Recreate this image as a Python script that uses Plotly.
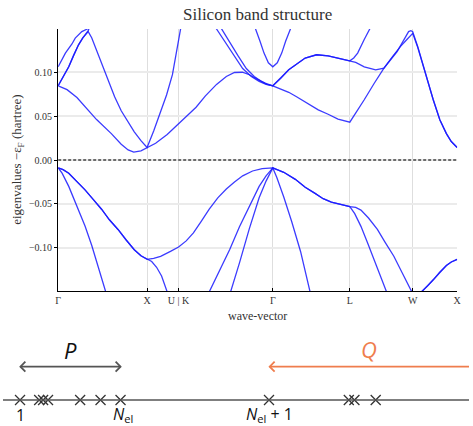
import plotly.graph_objects as go

# ---------------------------------------------------------------------------
# High-symmetry path of the fcc Brillouin zone (cumulative length, 2*pi/a)
# ---------------------------------------------------------------------------
KPATH_LABELS = ["Γ", "X", "U | K", "Γ", "L", "W", "X"]
KPATH_POS = [0.0, 1.0, 1.3536, 2.4142, 3.2802, 3.9873, 4.4873]

ENERGY_TICKS = [-0.10, -0.05, 0.0, 0.05, 0.10]

# ---------------------------------------------------------------------------
# Band energies relative to the Fermi level (hartree), sampled along the path
# ---------------------------------------------------------------------------
BAND2_K = [0.0, 0.044, 0.119, 0.211, 0.302, 0.377, 0.454, 0.535, 0.709, 1.0,
           1.354, 1.596, 1.699, 1.817, 1.928, 2.039, 2.150, 2.260, 2.338, 2.414,
           2.459, 2.537, 2.626, 2.726, 2.833, 3.036, 3.280, 3.987, 4.487]
BAND2_E = [-0.009, -0.015, -0.030, -0.052, -0.075, -0.097, -0.122, -0.150, -0.190, -0.210,
           -0.210, -0.180, -0.150, -0.126, -0.102, -0.076, -0.052, -0.030, -0.018, -0.009,
           -0.020, -0.042, -0.070, -0.104, -0.150, -0.190, -0.200, -0.200, -0.210]

BAND3_K = [0.0, 0.055, 0.119, 0.211, 0.302, 0.396, 0.488, 0.576, 0.673, 0.765, 0.856, 0.931, 1.0,
           1.052, 1.107, 1.163, 1.226, 1.285, 1.354,
           1.596, 1.762, 1.939, 2.039, 2.150, 2.260, 2.338, 2.414,
           2.537, 2.667, 2.778, 2.889, 2.980, 3.072, 3.180, 3.280,
           3.335, 3.405, 3.479, 3.553, 3.623, 3.693, 3.812, 3.987,
           4.033, 4.088, 4.155, 4.222, 4.288, 4.366, 4.421, 4.487]
BAND3_E = [-0.009, -0.011, -0.015, -0.024, -0.034, -0.045, -0.056, -0.068, -0.079, -0.091, -0.102, -0.109, -0.113,
           -0.1155, -0.122, -0.132, -0.150, -0.165, -0.175,
           -0.175, -0.162, -0.150, -0.117, -0.078, -0.043, -0.024, -0.009,
           -0.014, -0.022, -0.031, -0.038, -0.044, -0.048, -0.051, -0.053,
           -0.061, -0.0755, -0.094, -0.113, -0.131, -0.150, -0.175, -0.180,
           -0.162, -0.150, -0.143, -0.136, -0.128, -0.120, -0.116, -0.113]

BAND4_K = [0.0, 0.055, 0.119, 0.211, 0.302, 0.396, 0.488, 0.576, 0.673, 0.765, 0.856, 0.931, 1.0,
           1.074, 1.152, 1.263, 1.354,
           1.440, 1.521, 1.607, 1.699, 1.795, 1.891, 1.983, 2.075, 2.186, 2.294, 2.414,
           2.537, 2.667, 2.778, 2.889, 2.980, 3.072, 3.180, 3.280,
           3.346, 3.405, 3.490, 3.590, 3.679, 3.775, 3.867, 3.978, 3.987,
           4.033, 4.088, 4.155, 4.222, 4.288, 4.366, 4.421, 4.487]
BAND4_E = [-0.009, -0.011, -0.015, -0.024, -0.034, -0.045, -0.056, -0.068, -0.079, -0.091, -0.102, -0.109, -0.113,
           -0.112, -0.1095, -0.104, -0.099,
           -0.092, -0.083, -0.070, -0.056, -0.043, -0.033, -0.025, -0.018, -0.0125, -0.0098, -0.009,
           -0.014, -0.022, -0.031, -0.038, -0.044, -0.048, -0.051, -0.053,
           -0.054, -0.057, -0.066, -0.079, -0.094, -0.1095, -0.128, -0.150, -0.152,
           -0.155, -0.150, -0.143, -0.136, -0.128, -0.120, -0.116, -0.113]

BAND5_K = [0.0, 0.100, 0.211, 0.302, 0.432, 0.598, 0.709, 0.787, 0.850, 0.931, 1.0,
           1.096, 1.226, 1.330,
           1.448, 1.551, 1.656, 1.781, 1.891, 1.983, 2.072, 2.150, 2.238, 2.327, 2.414,
           2.504, 2.593, 2.681, 2.778, 2.925, 3.036, 3.147, 3.280,
           3.346, 3.442, 3.553, 3.664, 3.756, 3.848, 3.922, 3.987,
           4.044, 4.107, 4.163, 4.218, 4.292, 4.366, 4.421, 4.487]
BAND5_E = [0.0844, 0.080, 0.071, 0.061, 0.046, 0.030, 0.018, 0.0115, 0.009, 0.0105, 0.0143,
           0.019, 0.029, 0.039,
           0.050, 0.060, 0.073, 0.086, 0.095, 0.0995, 0.0998, 0.097, 0.092, 0.0875, 0.0844,
           0.081, 0.077, 0.072, 0.066, 0.057, 0.052, 0.0465, 0.043,
           0.053, 0.0685, 0.087, 0.1045, 0.117, 0.129, 0.137, 0.144,
           0.128, 0.106, 0.087, 0.0685, 0.0458, 0.030, 0.021, 0.0143]

BAND6_K = [0.0, 0.055, 0.119, 0.174, 0.229, 0.277, 0.310, 0.338, 0.377, 0.432, 0.488, 0.562,
           0.635, 0.709, 0.783, 0.856, 0.931, 1.0,
           1.074, 1.152, 1.219, 1.285, 1.354,
           1.396, 1.500, 1.650, 1.781, 1.873, 1.965, 2.075, 2.172, 2.260, 2.338, 2.414,
           2.504, 2.593, 2.778, 2.906, 3.036, 3.147, 3.280,
           3.346, 3.442, 3.571, 3.664, 3.734, 3.812, 3.878, 3.941, 3.967, 3.987,
           4.044, 4.107, 4.163, 4.218, 4.292, 4.366, 4.421, 4.487]
BAND6_E = [0.0844, 0.094, 0.106, 0.119, 0.131, 0.139, 0.1435, 0.146, 0.139, 0.125, 0.110, 0.091,
           0.072, 0.056, 0.044, 0.032, 0.022, 0.0143,
           0.033, 0.056, 0.074, 0.097, 0.136,
           0.160, 0.190, 0.170, 0.149, 0.135, 0.121, 0.104, 0.095, 0.0895, 0.086, 0.0844,
           0.093, 0.1026, 0.116, 0.1197, 0.1185, 0.116, 0.1128,
           0.111, 0.106, 0.1026, 0.1045, 0.113, 0.1234, 0.135, 0.146, 0.147, 0.146,
           0.129, 0.106, 0.087, 0.0685, 0.0458, 0.030, 0.021, 0.0143]

BAND7_K = [0.0, 0.055, 0.119, 0.174, 0.229, 0.277, 0.310, 0.338, 0.377, 0.5, 1.0,
           1.354,
           1.651, 1.836, 1.928, 2.020, 2.116, 2.205, 2.283, 2.349, 2.414,
           2.504, 2.593, 2.778, 2.906, 3.036, 3.147, 3.280,
           3.324, 3.368, 3.442, 3.504, 3.590, 3.987,
           4.487]
BAND7_E = [0.0844, 0.094, 0.106, 0.119, 0.131, 0.139, 0.1435, 0.147, 0.158, 0.185, 0.210,
           0.210,
           0.180, 0.149, 0.134, 0.119, 0.104, 0.095, 0.0895, 0.086, 0.0844,
           0.093, 0.1026, 0.116, 0.1197, 0.1185, 0.116, 0.1128,
           0.116, 0.1216, 0.137, 0.149, 0.170, 0.200,
           0.210]

BAND8_K = [0.0, 0.081, 0.155, 0.192, 0.266, 0.338, 0.377, 0.6, 1.0,
           1.354,
           2.0, 2.220, 2.270, 2.315, 2.364, 2.414, 2.464, 2.514, 2.558, 2.612, 2.8,
           3.280, 3.987, 4.487]
BAND8_E = [0.106, 0.1216, 0.132, 0.1386, 0.146, 0.1495, 0.153, 0.180, 0.200,
           0.220,
           0.200, 0.149, 0.135, 0.1216, 0.1105, 0.106, 0.1105, 0.1216, 0.135, 0.149, 0.190,
           0.220, 0.230, 0.200]

BANDS = [(BAND2_K, BAND2_E), (BAND3_K, BAND3_E), (BAND4_K, BAND4_E),
         (BAND5_K, BAND5_E), (BAND6_K, BAND6_E), (BAND7_K, BAND7_E),
         (BAND8_K, BAND8_E)]

# ---------------------------------------------------------------------------
# Schematic eigenvalue ladder: occupied block P and unoccupied block Q
# ---------------------------------------------------------------------------
LADDER_EIGENVALUES = [17.3, 36.7, 40.7, 45.7, 78.3, 99.0, 119.3,
                      270.0, 351.0, 356.7, 378.3]
N_EL = 7
LADDER_END = 473.0

# ---------------------------------------------------------------------------
W, H = 473, 426
SERIF = "Liberation Serif, DejaVu Serif, serif"
SANS = "Open Sans, DejaVu Sans, sans-serif"
BAND_COLOR = "rgba(25,25,255,0.85)"
Q_COLOR = "#ef7d4d"
P_COLOR = "#555555"

fig = go.Figure()

for k, e in BANDS:
    fig.add_trace(go.Scatter(
        x=k, y=e, mode="lines",
        line=dict(color=BAND_COLOR, width=1.3),
        xaxis="x", yaxis="y", hoverinfo="skip", showlegend=False,
    ))

# Fermi level
fig.add_shape(type="line", xref="x", yref="y",
              x0=KPATH_POS[0], x1=KPATH_POS[-1], y0=0, y1=0,
              line=dict(color="#444444", width=1.5, dash="3px,2px"))

# ---- ladder diagram (second pair of axes) ----
LINE_Y = 26.0
ARROW_Y = 59.3
HEAD = 5.0

fig.add_shape(type="line", xref="paper", yref="y2", x0=0, x1=1,
              y0=LINE_Y, y1=LINE_Y, line=dict(color="#555555", width=1.6))

fig.add_trace(go.Scatter(
    x=LADDER_EIGENVALUES, y=[LINE_Y] * len(LADDER_EIGENVALUES),
    mode="markers", xaxis="x2", yaxis="y2",
    marker=dict(symbol="x-thin", size=10, line=dict(color="#333333", width=1.3)),
    hoverinfo="skip", showlegend=False,
))


def arrow_trace(x_from, x_to, color, heads):
    xs = [x_from, x_to, None]
    ys = [ARROW_Y, ARROW_Y, None]
    for tip, back in heads:
        xs += [back, tip, back, None]
        ys += [ARROW_Y + HEAD, ARROW_Y, ARROW_Y - HEAD, None]
    return go.Scatter(x=xs, y=ys, mode="lines", xaxis="x2", yaxis="y2",
                      line=dict(color=color, width=1.8),
                      hoverinfo="skip", showlegend=False)


p_left = LADDER_EIGENVALUES[0] + 0.4
p_right = LADDER_EIGENVALUES[N_EL - 1]
q_left = LADDER_EIGENVALUES[N_EL] + 0.7
fig.add_trace(arrow_trace(p_left, p_right, P_COLOR,
                          [(p_left, p_left + HEAD), (p_right, p_right - HEAD)]))
fig.add_trace(arrow_trace(q_left, LADDER_END + 5, Q_COLOR,
                          [(q_left, q_left + HEAD)]))


def label(text, x, y, size, color, family, xref="paper", yref="paper", angle=0):
    return dict(text=text, x=x, y=y, xref=xref, yref=yref, showarrow=False,
                xanchor="center", yanchor="middle", textangle=angle,
                font=dict(family=family, size=size, color=color))


annotations = [
    label("Silicon band structure", 258.5 / W, (H - 14) / H, 17, "#333333", SERIF),
    label("eigenvalues −ε<sub>F</sub> (hartree)", 14 / W, (H - 160) / H, 13,
          "#333333", SERIF, angle=-90),
    label("wave-vector", 258.5 / W, (H - 316) / H, 12, "#333333", SERIF),
    label("<i>P</i>", (p_left + p_right) / 2, 76, 22, "#111111", SANS, "x2", "y2"),
    label("<i>Q</i>", (q_left + LADDER_END) / 2, 77, 22, Q_COLOR, SANS, "x2", "y2"),
    label("1", LADDER_EIGENVALUES[0], 11, 16, "#111111", SANS, "x2", "y2"),
    label("<i>N</i><sub>el</sub>", LADDER_EIGENVALUES[N_EL - 1] + 3, 12, 16,
          "#111111", SANS, "x2", "y2"),
    label("<i>N</i><sub>el</sub> + 1", LADDER_EIGENVALUES[N_EL], 12, 16,
          "#111111", SANS, "x2", "y2"),
]

fig.update_layout(
    width=W, height=H,
    margin=dict(l=0, r=0, t=0, b=0),
    paper_bgcolor="white", plot_bgcolor="white",
    showlegend=False,
    annotations=annotations,
    xaxis=dict(
        domain=[56 / W, 461 / W], range=[KPATH_POS[0], KPATH_POS[-1]],
        tickmode="array", tickvals=KPATH_POS, ticktext=KPATH_LABELS,
        showgrid=True, gridcolor="#dedede", gridwidth=1,
        showline=True, linecolor="#000000", linewidth=1.2,
        ticks="inside", ticklen=3, tickcolor="#000000",
        tickfont=dict(family=SERIF, size=10, color="#333333"),
        zeroline=False, anchor="y", fixedrange=True,
    ),
    yaxis=dict(
        domain=[(H - 291) / H, (H - 29) / H], range=[-0.149, 0.149],
        tickmode="array", tickvals=ENERGY_TICKS, tickformat=".2f",
        showgrid=True, gridcolor="#ebebeb", gridwidth=1.5,
        showline=True, linecolor="#000000", linewidth=1.2,
        ticks="outside", ticklen=3, tickcolor="#000000",
        tickfont=dict(family=SERIF, size=10, color="#333333"),
        zeroline=False, anchor="x", fixedrange=True,
    ),
    xaxis2=dict(domain=[0, 1], range=[0, LADDER_END], visible=False,
                anchor="y2", fixedrange=True),
    yaxis2=dict(domain=[0, 98 / H], range=[0, 98], visible=False,
                anchor="x2", fixedrange=True),
)

fig.write_html("out.html", config={"displayModeBar": False})
